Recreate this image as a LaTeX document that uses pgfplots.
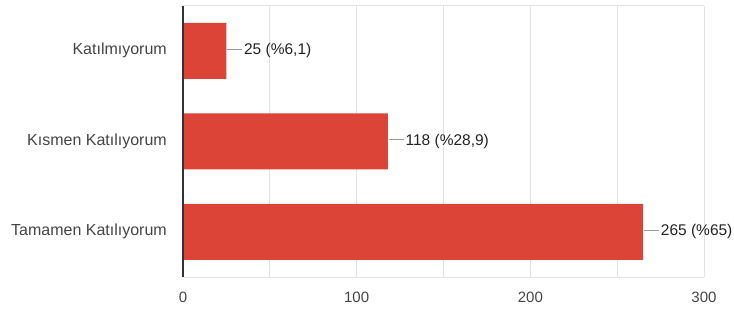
\documentclass[border=0pt]{standalone}
\usepackage{pgfplots}
\pgfplotsset{compat=1.18}
\usepackage{fontspec}
\setmainfont{Liberation Sans}
\definecolor{barred}{RGB}{219,68,55}
\definecolor{gridc}{RGB}{226,226,226}
\definecolor{ticktext}{RGB}{68,68,68}
\definecolor{labtext}{RGB}{34,34,34}
\definecolor{leader}{RGB}{153,153,153}
\definecolor{axisdark}{RGB}{51,51,51}
\begin{document}
\begin{tikzpicture}
\begin{axis}[
  scale only axis, width=521pt, height=271.5pt,
  xbar, bar width=56pt,
  xmin=0, xmax=300, ymin=-0.5, ymax=2.5, y dir=reverse,
  xtick={0,100,200,300}, minor xtick={50,150,250},
  xmajorgrids, xminorgrids,
  major grid style={gridc, line width=1pt},
  minor grid style={gridc, line width=1pt},
  ytick={0,1,2},
  yticklabels={Katılmıyorum, Kısmen Katılıyorum, Tamamen Katılıyorum},
  axis line style={draw=none},
  major tick length=0pt, minor tick length=0pt,
  tick style={draw=none},
  /pgf/number format/assume math mode=true,
  xticklabel style={font=\fontsize{15}{18}\selectfont, text=ticktext, inner sep=0pt, yshift=-14.5pt},
  yticklabel style={font=\fontsize{16}{19}\selectfont, text=ticktext, inner sep=0pt, xshift=-16pt},
  point meta=explicit symbolic,
  nodes near coords={{\color{leader}\rule[0.33em]{15pt}{1pt}}\hspace{2pt}\pgfplotspointmeta},
  nodes near coords style={anchor=west, inner sep=0pt, xshift=0.5pt, font=\fontsize{15.5}{18}\selectfont, text=labtext},
  clip=false,
]
\addplot[fill=barred, draw=none] coordinates {(25,0) [25 (\%6,1)] (118,1) [118 (\%28,9)] (265,2) [265 (\%65)]};
\draw[gridc, line width=1pt] (axis cs:0,2.5) -- (axis cs:300,2.5);
\draw[gridc, line width=1pt] (axis cs:0,-0.5) -- (axis cs:300,-0.5);
\draw[axisdark, line width=1.5pt] (axis cs:0,-0.5) -- (axis cs:0,2.5);
\coordinate (sw) at (axis cs:0,2.5);
\end{axis}
\pgfresetboundingbox
\path (sw) ++(-183pt,-34pt) rectangle ++(734pt,311pt);
\end{tikzpicture}
\end{document}
